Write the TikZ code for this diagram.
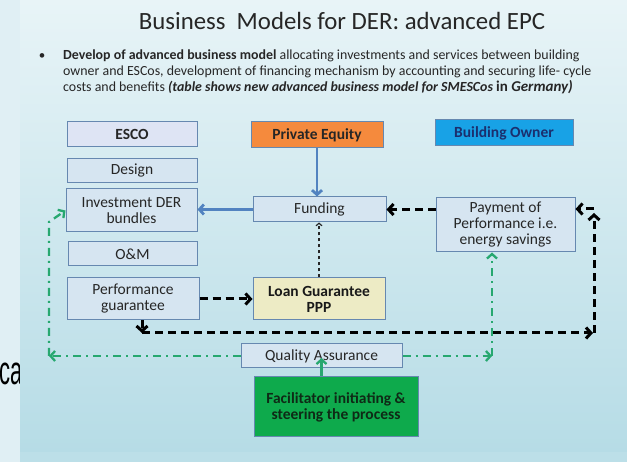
\documentclass[tikz,border=0pt]{standalone}
\usepackage{fontspec}
\setmainfont{Carlito}
\newfontfamily\arialf{Liberation Sans}
\usetikzlibrary{arrows.meta}
\definecolor{stripc}{HTML}{E0EFF4}
\definecolor{slidetop}{HTML}{E8F4F7}
\definecolor{slidemid}{HTML}{CDE8EF}
\definecolor{slidebot}{HTML}{B6DCE6}
\definecolor{boxline}{HTML}{6688B0}
\definecolor{boxfill}{HTML}{D6E5F1}
\definecolor{escofill}{HTML}{DEE4F4}
\definecolor{txt}{HTML}{262626}
\definecolor{orangef}{HTML}{F58A3D}
\definecolor{bluef}{HTML}{18A2E6}
\definecolor{bluet}{HTML}{1B2F6E}
\definecolor{loanf}{HTML}{EDEBC5}
\definecolor{facf}{HTML}{0EAA4C}
\definecolor{fact}{HTML}{0E2A16}
\definecolor{arrblue}{HTML}{5283C0}
\definecolor{arrgreen}{HTML}{27A870}
\begin{document}
\begin{tikzpicture}[x=1pt,y=-1pt,
  box/.style={draw=boxline, fill=boxfill, line width=1pt, inner sep=0pt, align=center,
    text=txt, font=\fontsize{15.5}{16}\selectfont},
  bbox/.style={box, font=\bfseries\fontsize{15.5}{16}\selectfont},
  bluearr/.style={draw=arrblue, line width=2.8pt, -{Straight Barb[length=4.5pt,width=10pt]}},
  blkdash/.style={draw=black, line width=3pt, dash pattern=on 8pt off 5pt,
    -{Straight Barb[length=5pt,width=11pt]}},
  thindash/.style={draw=black!85, line width=1.2pt, dash pattern=on 3.5pt off 2.5pt,
    -{Straight Barb[length=2.5pt,width=6pt]}},
  greenarr/.style={draw=arrgreen, line width=2.3pt,
    dash pattern=on 8pt off 5pt on 2pt off 5pt,
    -{Straight Barb[length=4.5pt,width=10pt]}},
  greensolid/.style={draw=arrgreen, line width=2.3pt, -{Straight Barb[length=4.5pt,width=10pt]}}
]
\useasboundingbox (0,0) rectangle (627,462);
\fill[stripc] (0,0) rectangle (627,462);
\node[anchor=base west, inner sep=0pt, font=\arialf\fontsize{40}{40}\selectfont, text=black] (ca) at (-1,385) {\scalebox{0.55}[1]{ca}};
\shade[top color=slidetop, middle color=slidemid, bottom color=slidebot] (20,0) rectangle (627,452);
\fill[slidebot!92!white] (20,452) rectangle (627,462);

% title and bullet
\node[anchor=base, inner sep=0pt, font=\fontsize{24.8}{28}\selectfont, text=txt] (title) at (342,30) {Business\ \ Models for DER: advanced EPC};
\node[anchor=base, inner sep=0pt, font=\fontsize{13}{14}\selectfont, text=txt] (bul) at (42,60) {•};
\node[anchor=base west, inner sep=0pt, font=\fontsize{13.9}{14}\selectfont, text=txt] (l1) at (63,60)
  {\textbf{Develop of advanced business model} allocating investments and services between building};
\node[anchor=base west, inner sep=0pt, font=\fontsize{13.9}{14}\selectfont, text=txt] (l2) at (63,76)
  {owner and ESCos, development of financing mechanism by accounting and securing life- cycle};
\node[anchor=base west, inner sep=0pt, font=\fontsize{13.9}{14}\selectfont, text=txt] (l3) at (63,92)
  {costs and benefits \textbf{\textit{(table shows new advanced business model for SMESCos}} {\fontsize{15}{15}\selectfont\textbf{in \textit{Germany)}}}};

% boxes
\node[bbox, fill=escofill, minimum width=130, minimum height=25] (esco) at (132,134.5) {ESCO};
\node[box, minimum width=130, minimum height=24] (design) at (132,171) {Design};
\node[box, minimum width=131, minimum height=43] (inv) at (131.5,210.5) {Investment DER\\bundles};
\node[box, minimum width=129, minimum height=24] (om) at (132.5,254) {O\&M};
\node[box, minimum width=132, minimum height=42] (perf) at (133,299) {Performance\\guarantee};
\node[bbox, fill=orangef, text=black!85, minimum width=132, minimum height=26] (pe) at (317,135) {Private Equity};
\node[bbox, fill=bluef, text=bluet, minimum width=138, minimum height=26] (bo) at (504,133) {Building Owner};
\node[box, minimum width=133, minimum height=25] (fund) at (319.5,209.5) {Funding};
\node[box, minimum width=139, minimum height=54] (pay) at (505.5,225) {Payment of\\Performance i.e.\\energy savings};
\node[bbox, fill=loanf, text=black!90, minimum width=132, minimum height=42] (loan) at (319,299) {Loan Guarantee\\PPP};
\node[box, minimum width=161, minimum height=24] (qa) at (321.5,356) {Quality Assurance};
\node[bbox, fill=facf, text=fact, minimum width=164, minimum height=60] (fac) at (336,407) {Facilitator initiating \&\\steering the process};

% connectors
\draw[bluearr] (pe.south) -- (pe.south |- fund.north);
\draw[bluearr] (fund.west) -- (fund.west -| inv.east);
\draw[blkdash] (fund.east -| pay.west) -- (fund.east);
\draw[thindash] (loan.north) -- (loan.north |- fund.south);
\draw[blkdash] (perf.east) -- (loan.west);

\coordinate (c1) at (142,333);
\coordinate (c2) at (594,333);
\coordinate (c3) at (594,209);
\draw[blkdash] (perf.south -| c1) -- (c1);
\draw[blkdash] (c1) -- ([xshift=-1pt]c2);
\draw[blkdash] (c2) -- ([yshift=-4pt]c3);
\draw[blkdash] (c3) -- (c3 -| pay.east);

\coordinate (g1) at (49,356);
\coordinate (g0) at (49,222);
\coordinate (g2) at (492,356);
\draw[greenarr] (qa.west) -- (g1);
\draw[greenarr] (g1) -- (g0) -- (inv.west);
\draw[greenarr] (qa.east) -- (g2);
\draw[greenarr] (g2) -- (g2 |- pay.south);
\draw[greensolid] (fac.north -| qa.center) -- ([yshift=-2pt]qa.center);
\end{tikzpicture}
\end{document}
